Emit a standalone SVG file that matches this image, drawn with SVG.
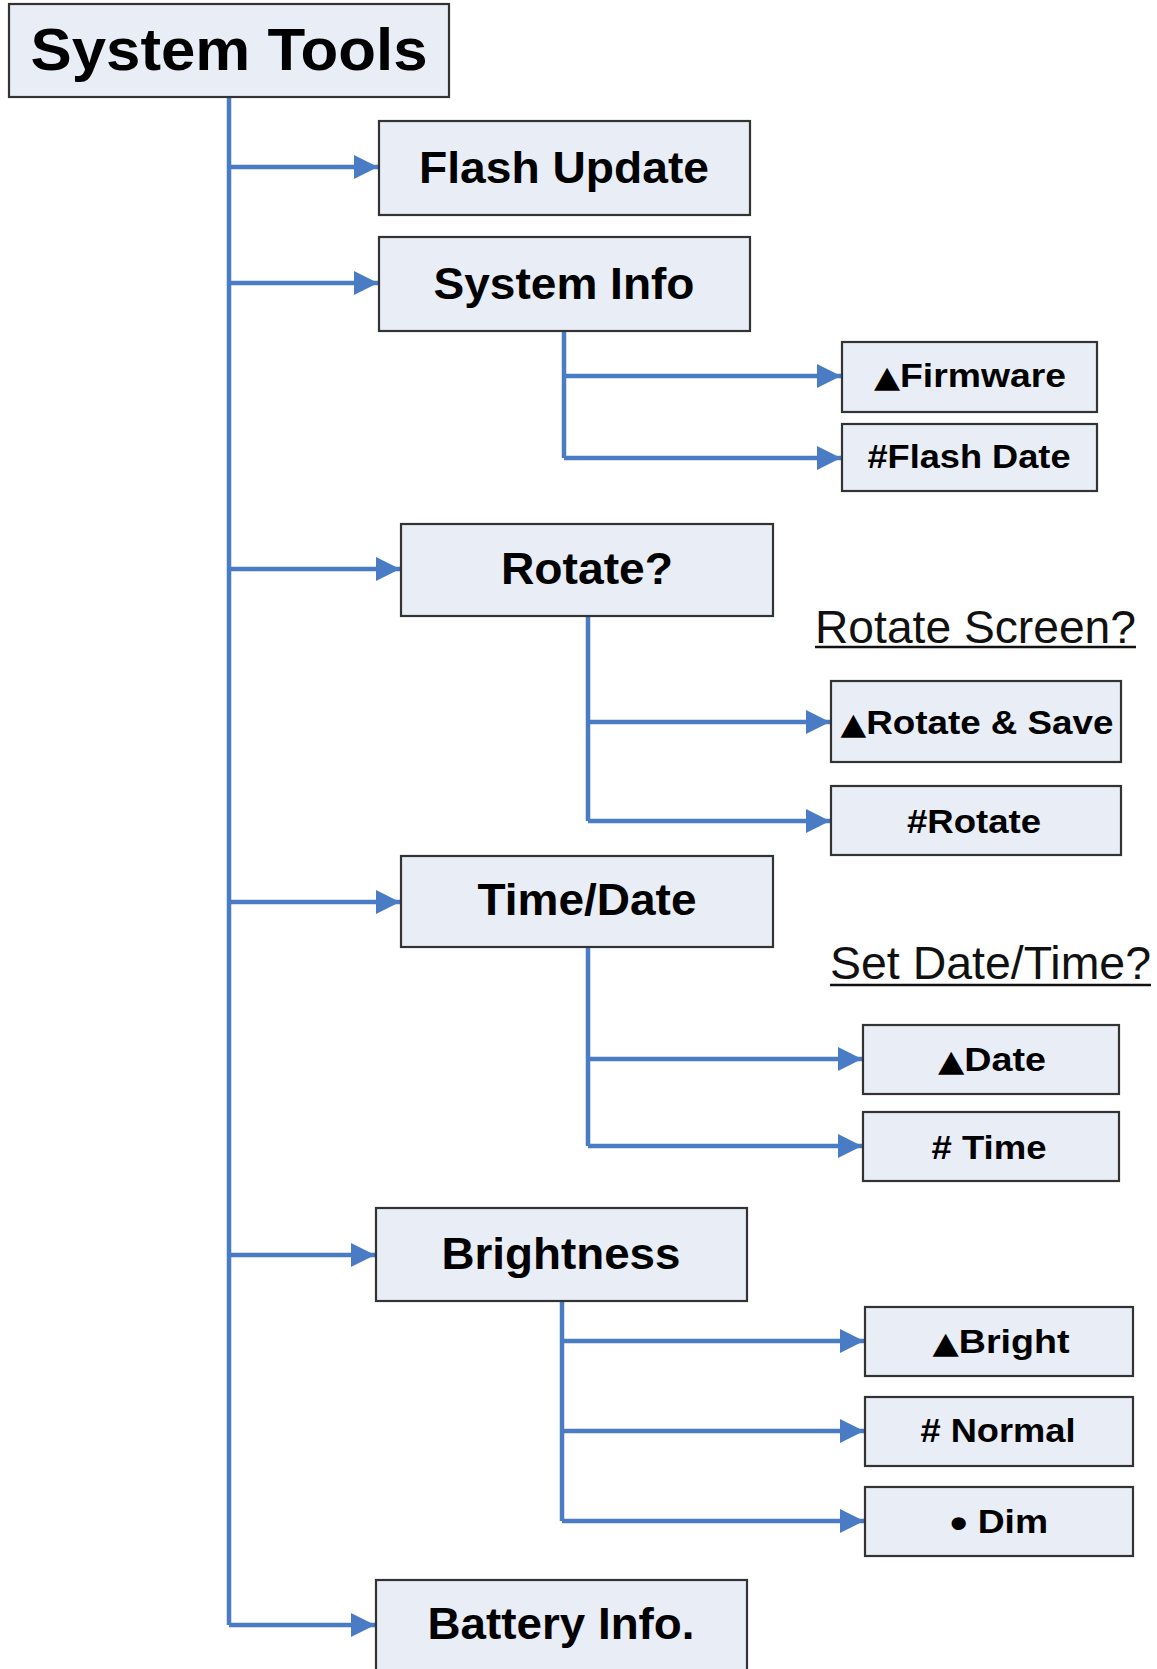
<svg xmlns="http://www.w3.org/2000/svg" width="1157" height="1669" viewBox="0 0 1157 1669">
<style>
.box{fill:#e8edf6;stroke:#333;stroke-width:2.2}
.t{font-family:"Liberation Sans",Arial,sans-serif;font-weight:bold;fill:#000;text-anchor:middle}
.l1{font-size:45px}
.l2{font-size:33px}
.tri{font-family:"DejaVu Sans",sans-serif;font-size:30px}
.cap{font-family:"Liberation Sans",Arial,sans-serif;font-size:46px;fill:#111}
.c{fill:none;stroke:#4a7cc6;stroke-width:4.5}
.ul{stroke:#111;stroke-width:2.5}
</style>
<defs>
<marker id="ah" markerUnits="userSpaceOnUse" markerWidth="26" markerHeight="24" refX="24" refY="12" orient="auto">
<path d="M0,0 L24,12 L0,24 Z" fill="#4a7cc6"/>
</marker>
</defs>
<rect width="1157" height="1669" fill="#fff"/>
<g id="connectors">
<path class="c" d="M229,97 V1625"/>
<path class="c" d="M229,167 H378" marker-end="url(#ah)"/>
<path class="c" d="M229,283 H378" marker-end="url(#ah)"/>
<path class="c" d="M229,569 H400" marker-end="url(#ah)"/>
<path class="c" d="M229,902 H400" marker-end="url(#ah)"/>
<path class="c" d="M229,1255 H375" marker-end="url(#ah)"/>
<path class="c" d="M229,1625 H375" marker-end="url(#ah)"/>
<path class="c" d="M564,331 V458"/>
<path class="c" d="M564,376 H841" marker-end="url(#ah)"/>
<path class="c" d="M564,458 H841" marker-end="url(#ah)"/>
<path class="c" d="M588,616 V821"/>
<path class="c" d="M588,722 H830" marker-end="url(#ah)"/>
<path class="c" d="M588,821 H830" marker-end="url(#ah)"/>
<path class="c" d="M588,947 V1146"/>
<path class="c" d="M588,1059 H862" marker-end="url(#ah)"/>
<path class="c" d="M588,1146 H862" marker-end="url(#ah)"/>
<path class="c" d="M562,1301 V1521"/>
<path class="c" d="M562,1341 H864" marker-end="url(#ah)"/>
<path class="c" d="M562,1431 H864" marker-end="url(#ah)"/>
<path class="c" d="M562,1521 H864" marker-end="url(#ah)"/>
</g>
<g id="system-tools"><rect class="box" x="9" y="4" width="440" height="93"/><text class="t" x="229" y="70" font-size="60" textLength="397" lengthAdjust="spacingAndGlyphs">System Tools</text></g>
<g id="flash-update"><rect class="box" x="379" y="121" width="371" height="94"/><text class="t l1" x="564" y="183" textLength="290" lengthAdjust="spacingAndGlyphs">Flash Update</text></g>
<g id="system-info"><rect class="box" x="379" y="237" width="371" height="94"/><text class="t l1" x="564" y="299" textLength="261" lengthAdjust="spacingAndGlyphs">System Info</text></g>
<g id="firmware"><rect class="box" x="842" y="342" width="255" height="70"/><text class="t l2" x="970" y="387" textLength="192" lengthAdjust="spacingAndGlyphs"><tspan class="tri">▲</tspan>Firmware</text></g>
<g id="flash-date"><rect class="box" x="842" y="424" width="255" height="67"/><text class="t l2" x="969" y="468" textLength="203" lengthAdjust="spacingAndGlyphs">#Flash Date</text></g>
<g id="rotate"><rect class="box" x="401" y="524" width="372" height="92"/><text class="t l1" x="587" y="584" textLength="172" lengthAdjust="spacingAndGlyphs">Rotate?</text></g>
<g id="rotate-screen-label"><text class="cap" x="815" y="643" textLength="321" lengthAdjust="spacingAndGlyphs">Rotate Screen?</text><line class="ul" x1="815" y1="647" x2="1136" y2="647"/></g>
<g id="rotate-save"><rect class="box" x="831" y="681" width="290" height="81"/><text class="t l2" x="977" y="734" textLength="273" lengthAdjust="spacingAndGlyphs"><tspan class="tri">▲</tspan>Rotate &amp; Save</text></g>
<g id="rotate-hash"><rect class="box" x="831" y="786" width="290" height="69"/><text class="t l2" x="974" y="833" textLength="134" lengthAdjust="spacingAndGlyphs">#Rotate</text></g>
<g id="time-date"><rect class="box" x="401" y="856" width="372" height="91"/><text class="t l1" x="587" y="915" textLength="219" lengthAdjust="spacingAndGlyphs">Time/Date</text></g>
<g id="set-date-label"><text class="cap" x="830" y="979" textLength="321" lengthAdjust="spacingAndGlyphs">Set Date/Time?</text><line class="ul" x1="830" y1="985" x2="1151" y2="985"/></g>
<g id="date"><rect class="box" x="863" y="1025" width="256" height="69"/><text class="t l2" x="992" y="1071" textLength="108" lengthAdjust="spacingAndGlyphs"><tspan class="tri">▲</tspan>Date</text></g>
<g id="time"><rect class="box" x="863" y="1112" width="256" height="69"/><text class="t l2" x="989" y="1159" textLength="115" lengthAdjust="spacingAndGlyphs"># Time</text></g>
<g id="brightness"><rect class="box" x="376" y="1208" width="371" height="93"/><text class="t l1" x="561" y="1269" textLength="239" lengthAdjust="spacingAndGlyphs">Brightness</text></g>
<g id="bright"><rect class="box" x="865" y="1307" width="268" height="69"/><text class="t l2" x="1001" y="1353" textLength="137" lengthAdjust="spacingAndGlyphs"><tspan class="tri">▲</tspan>Bright</text></g>
<g id="normal"><rect class="box" x="865" y="1397" width="268" height="69"/><text class="t l2" x="998" y="1442" textLength="155" lengthAdjust="spacingAndGlyphs"># Normal</text></g>
<g id="dim"><rect class="box" x="865" y="1487" width="268" height="69"/><text class="t l2" x="999" y="1533" textLength="98" lengthAdjust="spacingAndGlyphs"><tspan font-size="44" dy="5">•</tspan><tspan dy="-5"> Dim</tspan></text></g>
<g id="battery-info"><rect class="box" x="376" y="1580" width="371" height="100"/><text class="t l1" x="561" y="1639" textLength="267" lengthAdjust="spacingAndGlyphs">Battery Info.</text></g>
</svg>
